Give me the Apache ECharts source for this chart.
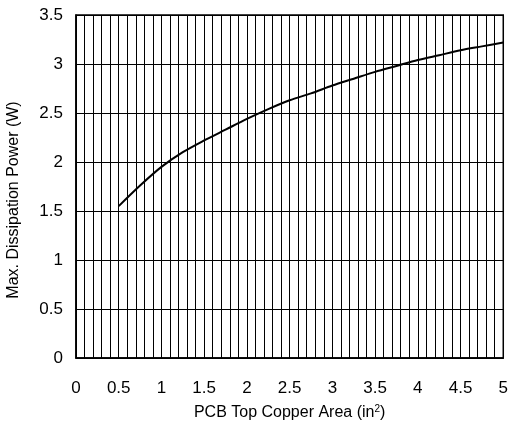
<!DOCTYPE html>
<html>
<head>
<meta charset="utf-8">
<script src="https://cdn.jsdelivr.net/npm/echarts@6/dist/echarts.min.js"></script>
<style>
  html, body { margin: 0; padding: 0; background: #fff; }
  #chart { width: 511px; height: 426px; }
</style>
</head>
<body>
<div id="chart"></div>
<script>
// Copper area on the PCB top layer (in^2)
const copperArea = [0.5, 0.75, 1.0, 1.25, 1.5, 1.75, 2.0, 2.25, 2.5, 2.75, 3.0, 3.25, 3.5, 3.75, 4.0, 4.25, 4.5, 4.75, 5.0];
// Maximum dissipation power (W) at each copper area
const maxPower = [1.55, 1.76, 1.95, 2.10, 2.22, 2.33, 2.44, 2.54, 2.63, 2.70, 2.78, 2.85, 2.92, 2.98, 3.04, 3.09, 3.14, 3.18, 3.22];

const xTitle = 'PCB Top Copper Area (in{sup|2})';
const yTitle = 'Max. Dissipation Power (W)';

const font = 'Liberation Sans, Arial, sans-serif';
const chart = echarts.init(document.getElementById('chart'));

chart.setOption({
  animation: false,
  backgroundColor: '#fff',
  grid: {
    left: 76, top: 15, right: 5, bottom: 65,
    show: true, borderColor: '#000', borderWidth: 1.5, backgroundColor: 'transparent'
  },
  // vertical axis title, set a little below the plot's middle
  graphic: [{
    type: 'text',
    x: 14, y: 200,
    rotation: Math.PI / 2,
    style: {
      text: yTitle,
      fill: '#000',
      font: '16px Liberation Sans, Arial, sans-serif',
      align: 'center',
      verticalAlign: 'middle'
    }
  }],
  xAxis: {
    type: 'value',
    min: 0, max: 5, interval: 0.5,
    name: xTitle,
    nameLocation: 'middle',
    nameGap: 46,
    nameTextStyle: {
      color: '#000', fontFamily: font, fontSize: 16,
      rich: { sup: { fontSize: 10, verticalAlign: 'top', padding: [0, 0, 8, 0], fontFamily: font, color: '#000' } }
    },
    axisLine: { show: true, onZero: false, lineStyle: { color: '#000', width: 1.5 } },
    axisTick: { show: false },
    minorTick: { show: false, splitNumber: 5 },
    axisLabel: { color: '#000', fontFamily: font, fontSize: 17, margin: 22 },
    splitLine: { show: true, lineStyle: { color: '#000', width: 1 } },
    minorSplitLine: { show: true, lineStyle: { color: '#000', width: 1 } }
  },
  yAxis: {
    type: 'value',
    min: 0, max: 3.5, interval: 0.5,
    axisLine: { show: true, onZero: false, lineStyle: { color: '#000', width: 1.5 } },
    axisTick: { show: false },
    axisLabel: { color: '#000', fontFamily: font, fontSize: 17, margin: 13 },
    splitLine: { show: true, lineStyle: { color: '#000', width: 1 } }
  },
  series: [{
    type: 'line',
    data: copperArea.map((a, i) => [a, maxPower[i]]),
    smooth: 0.3,
    symbol: 'none',
    lineStyle: { color: '#000', width: 2 }
  }]
});
</script>
</body>
</html>
